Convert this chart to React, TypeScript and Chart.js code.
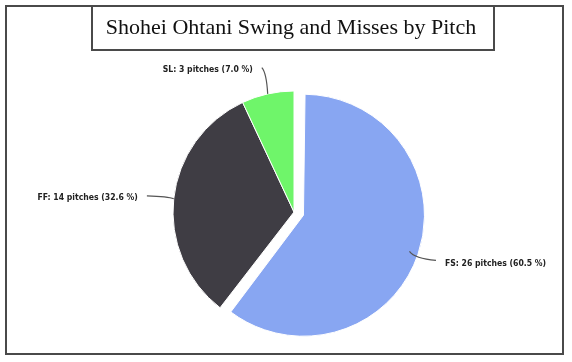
import React, { useEffect, useRef } from "react";
import { Chart, registerables } from "chart.js";

Chart.register(...registerables);

const TITLE = "Shohei Ohtani Swing and Misses by Pitch";
const PITCHES = ["FS", "FF", "SL"];
const COUNTS = [26, 14, 3];
const COLORS = ["#88A6F2", "#3F3D44", "#6FF56A"];
const OFFSETS = [40, 0, 0];

function radiusGrowth(arc: any) {
  const off = (arc.options && arc.options.offset) || 0;
  const circ = arc.endAngle - arc.startAngle;
  const fix = 1 - Math.sin(Math.min(Math.PI, circ));
  return (off / 4) * fix;
}

const decorPlugin = {
  id: "decor",
  afterUpdate(chart: any) {
    // Chart.js grows offset arcs by offset/4 (when > half circle); keep radius equal
    const meta = chart.getDatasetMeta(0);
    meta.data.forEach((arc: any) => {
      arc.outerRadius = arc.outerRadius - radiusGrowth(arc);
    });
  },
  beforeDraw(chart: any) {
    const ctx = chart.ctx;
    ctx.save();
    ctx.fillStyle = "#ffffff";
    ctx.fillRect(0, 0, chart.width, chart.height);
    ctx.strokeStyle = "#4a4a4a";
    ctx.lineWidth = 2;
    ctx.strokeRect(6, 6, 557, 348);
    ctx.fillStyle = "#ffffff";
    ctx.fillRect(92, 6, 402, 44);
    ctx.strokeRect(92, 6, 402, 44);
    ctx.fillStyle = "#111111";
    ctx.font = '22px "Liberation Serif", "Times New Roman", serif';
    ctx.textAlign = "center";
    ctx.textBaseline = "middle";
    ctx.fillText(TITLE, 291, 28);
    ctx.restore();
  },
  afterDatasetsDraw(chart: any) {
    const ctx = chart.ctx;
    const meta = chart.getDatasetMeta(0);
    const data = chart.data.datasets[0].data as number[];
    const total = data.reduce((a, b) => a + b, 0);
    ctx.save();
    ctx.font = 'bold 8.6px "DejaVu Sans Condensed", "Liberation Sans", sans-serif';
    ctx.fillStyle = "#222222";
    ctx.strokeStyle = "#555555";
    ctx.lineWidth = 1.2;
    meta.data.forEach((arc: any, i: number) => {
      const p = arc.getProps(["x", "y", "startAngle", "endAngle", "outerRadius"], true);
      const mid = (p.startAngle + p.endAngle) / 2;
      const dx = Math.cos(mid);
      const dy = Math.sin(mid);
      const off = (arc.options.offset || 0) / 4;
      const cx = p.x + dx * off;
      const cy = p.y + dy * off;
      const r = p.outerRadius + radiusGrowth(arc) - (off ? 9 : 0);
      const ax = cx + dx * r;
      const ay = cy + dy * r;
      const len = off ? 28 : 27;
      const ex = cx + dx * (r + len);
      const ey = cy + dy * (r + len);
      const mx = (ax + ex) / 2;
      const my = (ay + ey) / 2;
      const kx = mx + 0.6 * (ax - mx);
      const ky = my + 0.6 * (ey - my);
      ctx.beginPath();
      ctx.moveTo(ax, ay);
      ctx.quadraticCurveTo(kx, ky, ex, ey);
      ctx.stroke();
      const pct = ((data[i] / total) * 100).toFixed(1);
      const label = `${chart.data.labels[i]}: ${data[i]} pitches (${pct} %)`;
      ctx.textBaseline = "middle";
      if (dx >= 0) {
        ctx.textAlign = "left";
        ctx.fillText(label, ex + 9, ey + 3);
      } else {
        ctx.textAlign = "right";
        ctx.fillText(label, ex - 9, ey + 2);
      }
    });
    ctx.restore();
  },
};

export default function App() {
  const ref = useRef<HTMLCanvasElement>(null);
  useEffect(() => {
    if (!ref.current) return;
    const chart = new Chart(ref.current, {
      type: "pie",
      data: {
        labels: PITCHES,
        datasets: [
          {
            data: COUNTS,
            backgroundColor: COLORS,
            borderColor: "#ffffff",
            borderWidth: 1,
            offset: OFFSETS,
          },
        ],
      },
      options: {
        responsive: false,
        animation: false,
        events: [],
        radius: 121,
        layout: { padding: { left: 16, right: 0, top: 62, bottom: 0 } },
        plugins: {
          legend: { display: false },
          tooltip: { enabled: false },
          title: { display: false },
        },
      } as any,
      plugins: [decorPlugin],
    });
    return () => chart.destroy();
  }, []);
  return (
    <div style={{ position: "absolute", left: 0, top: 0, width: 572, height: 362 }}>
      <canvas ref={ref} width={572} height={362} style={{ width: 572, height: 362, display: "block" }} />
    </div>
  );
}
